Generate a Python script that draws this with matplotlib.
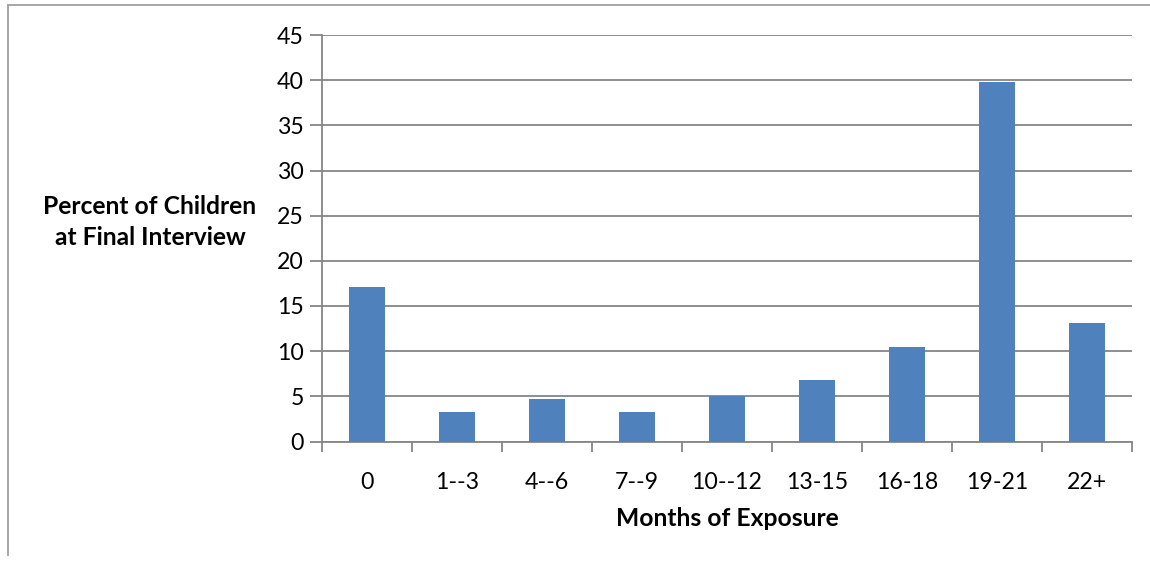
import matplotlib
matplotlib.use("Agg")
import matplotlib.pyplot as plt
from matplotlib.lines import Line2D

categories = ["0", "1--3", "4--6", "7--9", "10--12", "13-15", "16-18", "19-21", "22+"]
percent = [17.1, 3.3, 4.7, 3.3, 5.0, 6.8, 10.5, 39.8, 13.1]

plt.rcParams['font.family'] = ['Lato', 'DejaVu Sans']

BAR = "#4F81BD"
GRID = "#868686"

fig = plt.figure(figsize=(11.5, 5.62), dpi=100)
ax = fig.add_axes([322 / 1150, 1 - 441.5 / 562, 810 / 1150, 406.5 / 562])

x = range(len(categories))
ax.bar(x, percent, width=0.4, color=BAR, zorder=3)

ax.set_xlim(-0.5, len(categories) - 0.5)
ax.set_ylim(0, 45)
ax.set_yticks(range(0, 46, 5))
ax.set_xticks(list(x))
ax.set_xticklabels(categories)

# Category boundary ticks below the axis
ax.set_xticks([i - 0.5 for i in range(len(categories) + 1)], minor=True)
ax.tick_params(axis="x", which="major", length=0, pad=22, labelsize=16.7)
ax.tick_params(axis="x", which="minor", length=7, width=1.3, color=GRID)
ax.tick_params(axis="y", length=9, width=1.3, color=GRID, labelsize=16.7, pad=4)

ax.yaxis.grid(True, color=GRID, linewidth=1.3, zorder=0)
for side in ("top", "right"):
    ax.spines[side].set_visible(False)
for side in ("left", "bottom"):
    ax.spines[side].set_color(GRID)
    ax.spines[side].set_linewidth(1.3)

ax.set_xlabel("Months of Exposure", fontsize=17.7, fontweight="bold", labelpad=10)
fig.text(150 / 1150, 1 - 222 / 562, "Percent of Children\nat Final Interview",
         ha="center", va="center", fontsize=17.7, fontweight="bold", linespacing=1.4)

# Outer frame lines along the left and top edges
fig.add_artist(Line2D([8 / 1150, 8 / 1150], [1 - 5 / 562, 1 - 555 / 562],
                      transform=fig.transFigure, color="#A0A0A0", linewidth=1.3))
fig.add_artist(Line2D([8 / 1150, 1.0], [1 - 5 / 562, 1 - 5 / 562],
                      transform=fig.transFigure, color="#A0A0A0", linewidth=1.3))

fig.savefig("out.png", dpi=100, facecolor="white")
